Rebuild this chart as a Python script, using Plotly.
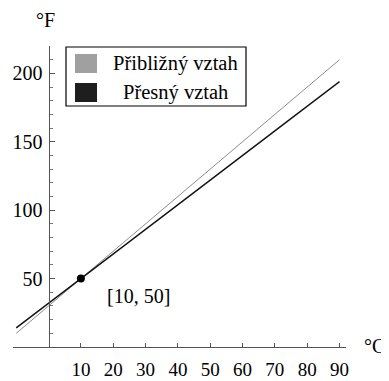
import plotly.graph_objects as go

# Data
celsius = [-10, 90]
approx_f = [10, 210]      # Přibližný vztah (F = 2C + 30)
exact_f = [14, 194]       # Přesný vztah (F = 1.8C + 32)
point_c = [10]
point_f = [50]
x_ticks = [10, 20, 30, 40, 50, 60, 70, 80, 90]
y_ticks = [50, 100, 150, 200]
legend_labels = ["Přibližný vztah", "Přesný vztah"]
legend_colors = ["#a0a0a0", "#1e1e1e"]

# the page body has an 8px margin, so the figure starts at (8, 8) in the window
OFF = 8
W, H = 389 - OFF, 381 - OFF
ML, MT = 13 - OFF, 46 - OFF
MR = W - (346 - OFF)
MB = H - (347 - OFF)
XR = [-11, 92]
YR = [0, 220]
FONT = "Liberation Serif"
AXIS = "#555555"

pw = W - ML - MR
ph = H - MT - MB


def px(x):
    """window pixel x -> paper fraction"""
    return (x - OFF - ML) / pw


def py(y):
    """window pixel y -> paper fraction"""
    return (H - MB - (y - OFF)) / ph


fig = go.Figure()
fig.add_trace(go.Scatter(x=celsius, y=approx_f, mode="lines",
                         line=dict(color="#8c8c8c", width=1), showlegend=False))
fig.add_trace(go.Scatter(x=celsius, y=exact_f, mode="lines",
                         line=dict(color="#111111", width=1.4), showlegend=False))
fig.add_trace(go.Scatter(x=point_c, y=point_f, mode="markers",
                         marker=dict(color="black", size=8), showlegend=False))

fig.add_annotation(x=27.9, y=37.1, xref="x", yref="y", showarrow=False,
                   xanchor="center", yanchor="middle",
                   text=f"[{point_c[0]}, {point_f[0]}]",
                   font=dict(family=FONT, size=20, color="black"))
fig.add_annotation(x=px(45), y=py(20), xref="paper", yref="paper", showarrow=False,
                   xanchor="center", yanchor="middle",
                   text="°F", font=dict(family=FONT, size=20, color="black"))
fig.add_annotation(x=px(374), y=py(346), xref="paper", yref="paper", showarrow=False,
                   xanchor="center", yanchor="middle",
                   text="°C", font=dict(family=FONT, size=20, color="black"))

# legend box
fig.add_shape(type="rect", xref="paper", yref="paper",
              x0=px(66), x1=px(246), y0=py(106), y1=py(47),
              line=dict(color="black", width=1.2), fillcolor="white", layer="above")
sw_tops = [54, 83]
for lab, col, top in zip(legend_labels, legend_colors, sw_tops):
    fig.add_shape(type="rect", xref="paper", yref="paper",
                  x0=px(75), x1=px(97), y0=py(top + 19), y1=py(top),
                  line=dict(width=0), fillcolor=col, layer="above")
    fig.add_annotation(x=px(175), y=py(top + 9.5), xref="paper", yref="paper",
                       showarrow=False, xanchor="center", yanchor="middle",
                       text=lab,
                       font=dict(family=FONT, size=20.5, color="black"))

yaxis_pos = (0 - XR[0]) / (XR[1] - XR[0])
xtickfont = dict(family=FONT, size=19, color="black")
ytickfont = dict(family=FONT, size=20, color="black")

fig.update_layout(
    width=W, height=H,
    margin=dict(l=ML, r=MR, t=MT, b=MB, autoexpand=False),
    paper_bgcolor="white", plot_bgcolor="white",
    font=dict(family=FONT, size=20, color="black"),
    xaxis=dict(range=XR, showgrid=False, zeroline=False, showline=True,
               linecolor=AXIS, linewidth=1, tickvals=x_ticks,
               ticks="inside", ticklen=4, tickcolor=AXIS, tickfont=xtickfont,
               ticklabelstandoff=5, fixedrange=True),
    yaxis=dict(range=YR, showgrid=False, zeroline=False, showline=True,
               linecolor=AXIS, linewidth=1, tickvals=y_ticks,
               ticks="inside", ticklen=5, tickcolor=AXIS, tickfont=ytickfont,
               anchor="free", position=yaxis_pos, side="left",
               ticklabelstandoff=2,
               minor=dict(tick0=0, dtick=10, ticks="inside", ticklen=3,
                          tickcolor="#777", showgrid=False),
               fixedrange=True),
)

fig.write_html("out.html")
